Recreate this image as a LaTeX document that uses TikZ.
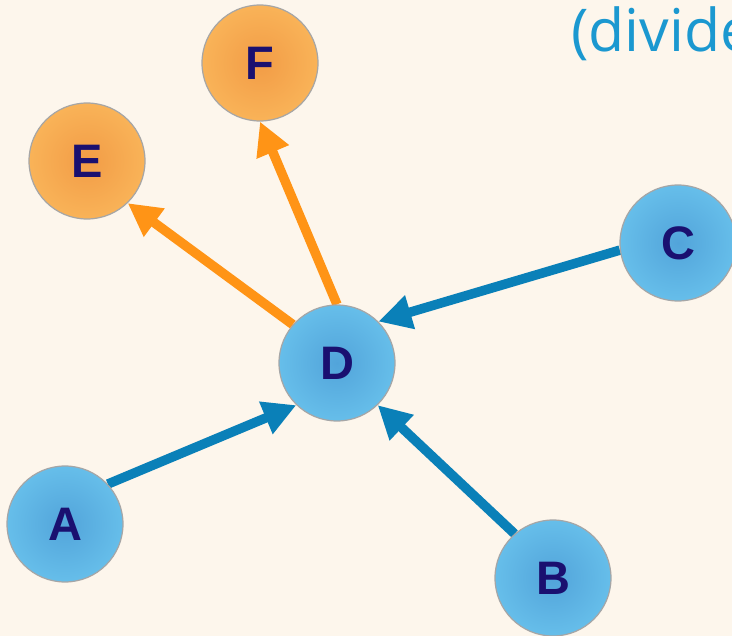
\documentclass[tikz,border=0pt]{standalone}
\usepackage{fontspec}
\setmainfont{Liberation Sans}
\newfontfamily\divfont{Open Sans}
\usetikzlibrary{arrows.meta,backgrounds}
\definecolor{bg}{HTML}{FDF6EC}
\definecolor{ballblue}{HTML}{52A4DA}
\definecolor{ballblueedge}{HTML}{66BEEA}
\definecolor{ballorange}{HTML}{F29C46}
\definecolor{ballorangeedge}{HTML}{F9B358}
\definecolor{lettercol}{HTML}{1A1070}
\definecolor{arrblue}{HTML}{0A80B8}
\definecolor{arrorange}{HTML}{FF9416}
\definecolor{divcol}{HTML}{1B98D0}
\begin{document}
\begin{tikzpicture}[x=1pt,y=-1pt,
  ball/.style={circle, minimum size=116pt, inner sep=0pt, draw=black!35, line width=1.2pt,
    shading=radial, font=\fontsize{47}{47}\selectfont\bfseries, text=lettercol},
  blueball/.style={ball, inner color=ballblue, outer color=ballblueedge},
  orangeball/.style={ball, inner color=ballorange, outer color=ballorangeedge},
  arr/.style={line width=9.5pt, -{Triangle[length=33pt,width=33pt]}},
  barr/.style={arr, draw=arrblue},
  oarr/.style={arr, draw=arrorange}]
\begin{scope}[on background layer]
\fill[bg] (0,0) rectangle (732,636);
\end{scope}
\useasboundingbox (0,0) rectangle (732,636);
\node[orangeball] (F) at (260,63) {F};
\node[orangeball] (E) at (87,161) {E};
\node[blueball] (C) at (678,243) {C};
\node[blueball] (D) at (337,363) {D};
\node[blueball] (A) at (65,524) {A};
\node[blueball] (B) at (553,578) {B};
\node[anchor=base west, inner sep=0pt, text=divcol, font=\divfont\fontsize{59}{59}\selectfont] (T) at (571,52) {(divide};
\begin{scope}[on background layer]
\draw[barr] (A.43) -- (D.226);
\draw[barr] (B.131) -- (D.-46);
\draw[barr] (C.187) -- (D.45);
\draw[oarr] (D.139) -- (E.-46);
\draw[oarr] (D.90) -- (F.-90);
\end{scope}
\end{tikzpicture}
\end{document}
